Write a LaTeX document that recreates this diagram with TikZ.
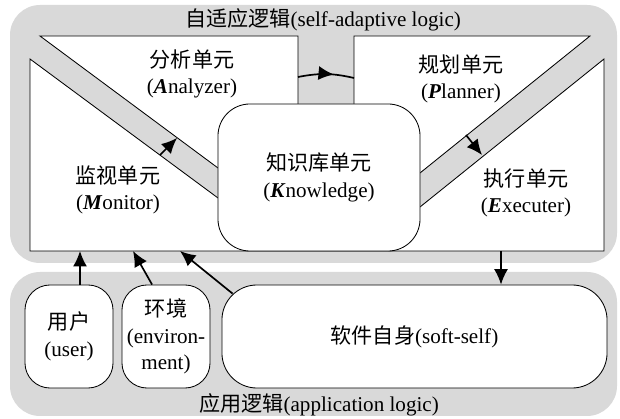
\documentclass[tikz,border=0pt]{standalone}
\usepackage{fontspec}
\usepackage{tikz}
\usetikzlibrary{calc,arrows.meta,positioning,decorations.markings}
\setmainfont{Liberation Serif}
\newfontfamily\cjk{Noto Sans CJK SC}
\newcommand{\zh}[1]{{\cjk #1}}
\newcommand{\bi}[1]{\textbf{\textit{#1}}}

\begin{document}
\begin{tikzpicture}[x=0.025cm, y=-0.025cm,
                    font=\fontsize{15}{19}\selectfont,
                    layer/.style = {fill=black!15, draw=none, rounded corners=0.75cm},
                    unitshape/.style = {fill=white, draw=black, line width=0.6pt},
                    roundbox/.style = {unitshape, rounded corners=#1, align=center, inner sep=0pt},
                    unittext/.style = {align=center},
                    flow/.style = {-{Latex[length=11pt,width=10pt]}, line width=1.2pt},
                    midflow/.style = {line width=1.2pt, postaction={decorate},
                                      decoration={markings,
                                                  mark=at position 0.64 with {\arrow{Latex[length=11pt,width=10pt]}}}}]

    \useasboundingbox (0,0) rectangle (620,419);

    % the two logic layers
    \fill[layer] (10,5) rectangle (617,263);
    \fill[layer] (10,272) rectangle (617,416);

    % MAPE units
    \draw[unitshape] (40,36) -- (298,36) -- (298,170) -- (218,168) -- cycle;
    \draw[unitshape] (354,36) -- (590,36) -- (420,173) -- (354,173) -- cycle;
    \draw[unitshape] (30,59) -- (218,198) -- (420,207) -- (604,59) -- (604,251) -- (30,251) -- cycle;

    \node[roundbox=0.8cm, minimum width=5.05cm, minimum height=3.675cm] (know) at (319,177.5)
                {\zh{知识库单元}\\(\bi{K}nowledge)};

    \node[unittext] (ana)  at (192,74)  {\zh{分析单元}\\(\bi{A}nalyzer)};
    \node[unittext] (plan) at (461,79)  {\zh{规划单元}\\(\bi{P}lanner)};
    \node[unittext] (mon)  at (118,190) {\zh{监视单元}\\(\bi{M}onitor)};
    \node[unittext] (exe)  at (526,193) {\zh{执行单元}\\(\bi{E}xecuter)};

    \node (selflogic) at (323,20)  {\zh{自适应逻辑}(self-adaptive logic)};
    \node (applogic)  at (319,405) {\zh{应用逻辑}(application logic)};

    % application side
    \node[roundbox=0.625cm, minimum width=2.2cm, minimum height=2.575cm] (user) at (69,336.5)
                {\zh{用户}\\(user)};
    \node[roundbox=0.625cm, minimum width=2.2cm, minimum height=2.575cm] (env) at (166,336.5)
                {\zh{环境}\\(environ-\\ment)};
    \node[roundbox=0.875cm, minimum width=9.625cm, minimum height=2.575cm] (soft) at (414.5,336.5)
                {\zh{软件自身}(soft-self)};

    % loop
    \coordinate (anaout) at (298,77);
    \coordinate (planin) at (354,78);
    \draw[midflow] (anaout) to[bend left=12] (planin);
    \coordinate (monout) at (160,155);
    \coordinate (anain)  at (177,138);
    \draw[flow] (monout) -- (anain);
    \coordinate (planout) at (466,135);
    \coordinate (exein)   at (482,155);
    \draw[flow] (planout) -- (exein);

    % sensors and effector
    \coordinate (in1) at (80,251);
    \coordinate (in2) at (133,251);
    \coordinate (in3) at (180,251);
    \coordinate (out) at (501,251);
    \draw[flow] (user.north -| in1) -- (in1);
    \draw[flow] (env.105) -- (in2);
    \draw[flow] ($(soft.north west)+(11,9)$) -- (in3);
    \draw[flow] (out) -- (soft.north -| out);
\end{tikzpicture}
\end{document}
